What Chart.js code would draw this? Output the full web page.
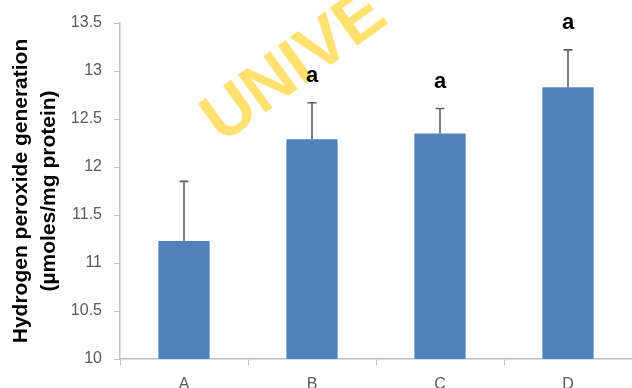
<!DOCTYPE html>
<html>
<head>
<meta charset="utf-8">
<script src="https://cdn.jsdelivr.net/npm/chart.js@4"></script>
<style>
  html, body { margin: 0; padding: 0; background: #fff; overflow: hidden; }
  #wrap { width: 632px; height: 388px; }
</style>
</head>
<body>
<div id="wrap"><canvas id="myChart" width="632" height="388"></canvas></div>
<script>
// groups, mean values, SD and significance letters
const groups = ['A', 'B', 'C', 'D'];
const means = [11.23, 12.29, 12.35, 12.83];
const errors = [0.62, 0.38, 0.26, 0.39];
const letters = ['', 'a', 'a', 'a'];
const yTicks = [10, 10.5, 11, 11.5, 12, 12.5, 13, 13.5];

const barColor = '#4f81bd';
const axisColor = '#bfbfbf';
const labelColor = '#595959';
const fontFamily = '"Liberation Sans", Arial, sans-serif';

// upper error whiskers + letters above them
const errorBars = {
  id: 'errorBars',
  afterDatasetsDraw(chart) {
    const ctx = chart.ctx;
    const y = chart.scales.y;
    const meta = chart.getDatasetMeta(0);
    ctx.save();
    ctx.strokeStyle = '#5f5f5f';
    ctx.lineWidth = 1.6;
    meta.data.forEach((bar, i) => {
      const top = y.getPixelForValue(means[i] + errors[i]);
      ctx.beginPath();
      ctx.moveTo(bar.x, bar.y);
      ctx.lineTo(bar.x, top);
      ctx.moveTo(bar.x - 4.5, top);
      ctx.lineTo(bar.x + 4.5, top);
      ctx.stroke();
      if (letters[i]) {
        ctx.fillStyle = '#000';
        ctx.font = 'bold 22px ' + fontFamily;
        ctx.textAlign = 'center';
        ctx.textBaseline = 'middle';
        ctx.fillText(letters[i], bar.x, top - 27);
      }
    });
    ctx.restore();
  }
};

// faint diagonal watermark behind the bars
const watermark = {
  id: 'watermark',
  beforeDatasetsDraw(chart) {
    const ctx = chart.ctx;
    ctx.save();
    ctx.translate(222, 144);
    ctx.rotate(-36 * Math.PI / 180);
    ctx.fillStyle = '#ffe171';
    ctx.font = 'bold 68px ' + fontFamily;
    ctx.textBaseline = 'alphabetic';
    ctx.fillText('UNIVE', 0, 0);
    ctx.restore();
  }
};

const ctx = document.getElementById('myChart').getContext('2d');
new Chart(ctx, {
  type: 'bar',
  data: {
    labels: groups,
    datasets: [{
      data: means,
      backgroundColor: barColor,
      borderWidth: 0,
      categoryPercentage: 1,
      barPercentage: 0.4
    }]
  },
  options: {
    responsive: false,
    animation: false,
    layout: { padding: { top: 23, right: 0, left: 0, bottom: 0 } },
    plugins: { legend: { display: false }, tooltip: { enabled: false } },
    scales: {
      x: {
        grid: { drawOnChartArea: false, color: axisColor, tickLength: 6, offset: true },
        border: { color: axisColor, width: 1.5 },
        ticks: { color: labelColor, font: { size: 16, family: fontFamily }, padding: 10 },
        afterFit(scale) { scale.height = 29; }
      },
      y: {
        min: 10,
        max: 13.5,
        afterBuildTicks(scale) { scale.ticks = yTicks.map(v => ({ value: v })); },
        grid: { drawOnChartArea: false, color: axisColor, tickLength: 6 },
        border: { color: axisColor, width: 1.5 },
        ticks: {
          color: labelColor,
          padding: 12,
          font: { size: 16, family: fontFamily },
          callback: v => String(v)
        },
        title: {
          display: true,
          text: ['Hydrogen peroxide generation', '(\u00b5moles/mg protein)'],
          color: '#000',
          font: { size: 21, weight: 'bold', family: fontFamily, lineHeight: 1.35 },
          padding: { top: 7, bottom: 0 }
        },
        afterFit(scale) { scale.width = 120; }
      }
    }
  },
  plugins: [watermark, errorBars]
});
</script>
</body>
</html>
